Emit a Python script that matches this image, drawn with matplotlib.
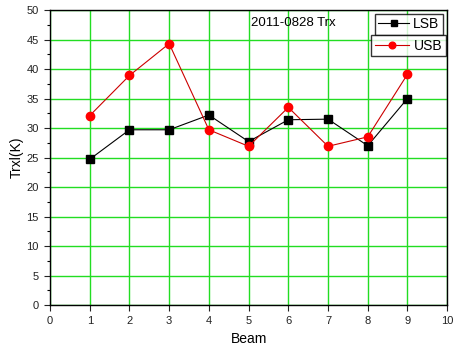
import matplotlib
matplotlib.use("Agg")
import matplotlib.pyplot as plt

plt.rcParams['font.family'] = ['Liberation Sans', 'DejaVu Sans']

beam = [1, 2, 3, 4, 5, 6, 7, 8, 9]
lsb = [24.7, 29.7, 29.7, 32.2, 27.7, 31.4, 31.5, 27.0, 35.0]
usb = [32.1, 38.9, 44.3, 29.7, 26.9, 33.5, 26.9, 28.5, 39.1]
xticks = list(range(0, 11))
yticks = list(range(0, 51, 5))

fig = plt.figure(figsize=(4.61, 3.51), dpi=100)
ax = fig.add_axes([0.1085, 0.131, 0.8615, 0.8405])

ax.set_xlim(0, 10)
ax.set_ylim(0, 50)
ax.set_xticks(xticks)
ax.set_yticks(yticks)
ax.set_yticks([y + 2.5 for y in yticks[:-1]], minor=True)
ax.grid(True, which='major', color='#22dd22', linewidth=1.0)
ax.set_axisbelow(True)

l1, = ax.plot(beam, lsb, color='black', linewidth=0.8, marker='s',
              markersize=5.5, markerfacecolor='black', markeredgecolor='black')
l2, = ax.plot(beam, usb, color='#cc0000', linewidth=0.8, marker='o',
              markersize=6, markerfacecolor='red', markeredgecolor='red')

for s in ax.spines.values():
    s.set_linewidth(1.0)
    s.set_color('black')

ax.tick_params(axis='both', which='major', direction='out', length=4,
               width=0.8, labelsize=8, pad=4, colors='#222222')
ax.tick_params(axis='y', which='minor', direction='out', length=2.5, width=0.8)

ax.set_xlabel('Beam', fontsize=10, labelpad=4)
ax.set_ylabel('Trxl(K)', fontsize=10, labelpad=2)

ax.text(0.612, 0.975, '2011-0828 Trx', transform=ax.transAxes, fontsize=9.5,
        ha='center', va='top')

leg1 = ax.legend([l1], ['LSB'], loc='upper right', bbox_to_anchor=(0.996, 0.997),
                 fontsize=10, frameon=True, fancybox=False, edgecolor='black',
                 handlelength=2.2, handletextpad=0.3, borderpad=0.25,
                 borderaxespad=0.2, markerscale=0.8)
leg1.get_frame().set_linewidth(1.0)
ax.add_artist(leg1)
leg2 = ax.legend([l2], ['USB'], loc='upper right', bbox_to_anchor=(1.003, 0.924),
                 fontsize=10, frameon=True, fancybox=False, edgecolor='black',
                 handlelength=2.5, handletextpad=0.3, borderpad=0.25,
                 borderaxespad=0.2, markerscale=0.8)
leg2.get_frame().set_linewidth(1.0)

fig.savefig('out.png', dpi=100, facecolor='white')
